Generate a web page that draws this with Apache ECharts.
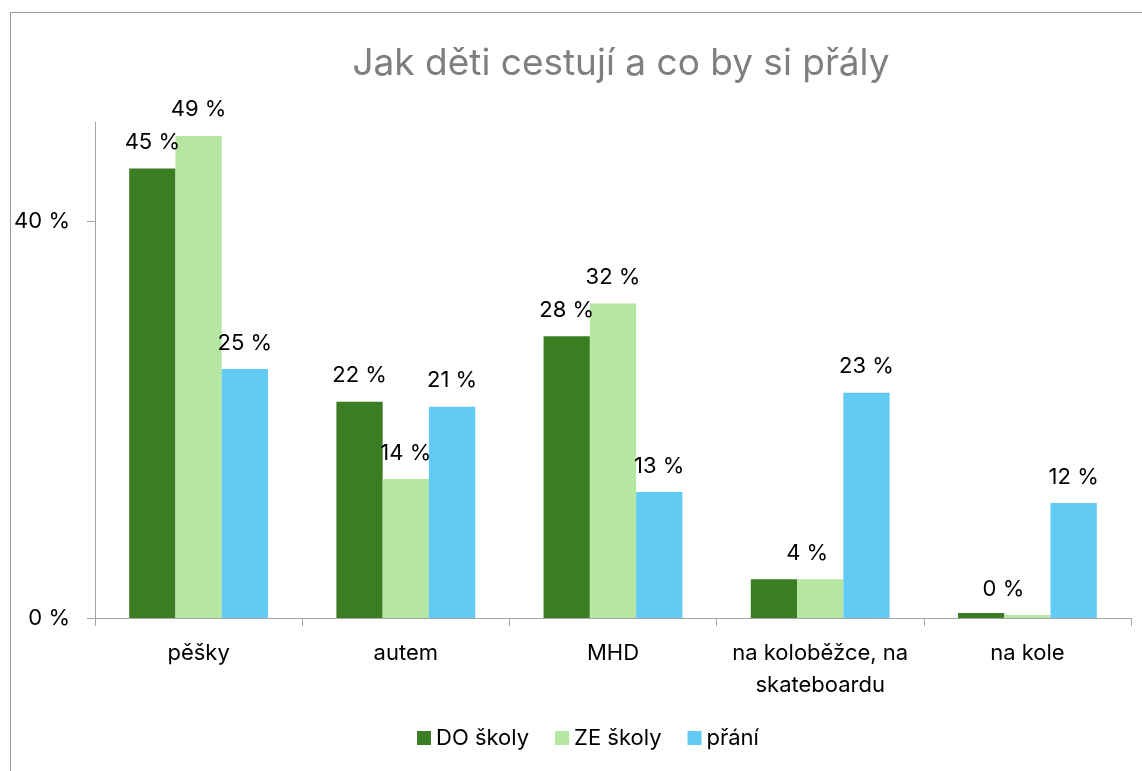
<!DOCTYPE html>
<html><head><meta charset="utf-8">
<script src="https://cdn.jsdelivr.net/npm/echarts@6/dist/echarts.min.js"></script>
<style>html,body{margin:0;padding:0;background:#fff}#c{width:1142px;height:771px}</style>
</head><body><div id="c"></div>
<script>
const categories = ['pěšky', 'autem', 'MHD', 'na koloběžce, na\nskateboardu', 'na kole'];
const seriesNames = ['DO školy', 'ZE školy', 'přání'];
const doSkoly = [45.3, 21.8, 28.4, 3.9, 0.5];
const zeSkoly = [48.6, 14.0, 31.7, 3.9, 0.3];
const prani = [25.1, 21.3, 12.7, 22.7, 11.6];
const yTicks = [0, 40];
const colors = ['#3b7d23', '#b5e6a2', '#61cbf3'];

const FONT = 'Inter';
const FS = 22;
const fmt = p => Math.round(p.value) + ' %';

function mk(vals, hideIdx, offsets) {
  return vals.map((v, i) => {
    const item = { value: v };
    if (hideIdx && hideIdx.includes(i)) item.label = { show: false };
    if (offsets && offsets[i] !== undefined) item.label = { offset: [offsets[i], 0] };
    return item;
  });
}

const labelCfg = { show: true, position: 'top', distance: 15, formatter: fmt, fontFamily: FONT, fontSize: FS, color: '#000' };

const chart = echarts.init(document.getElementById('c'));
chart.setOption({
  animation: false,
  textStyle: { fontFamily: FONT },
  graphic: [{
    type: 'rect', shape: { x: 10.5, y: 12.5, width: 1200, height: 800 },
    style: { fill: 'none', stroke: '#999', lineWidth: 1 }, silent: true, z: -1
  }],
  title: {
    text: 'Jak děti cestují a co by si přály',
    left: 616, top: 40, textAlign: 'center',
    textStyle: { fontFamily: FONT, fontSize: 37, fontWeight: 'normal', color: '#7f7f7f' }
  },
  legend: {
    left: 412, top: 722, itemWidth: 14, itemHeight: 14, itemGap: 26,
    icon: 'rect',
    textStyle: { fontFamily: FONT, fontSize: FS, color: '#000' },
    data: seriesNames
  },
  grid: { left: 95, right: 11, top: 122, bottom: 153, containLabel: false },
  xAxis: {
    type: 'category', data: categories,
    axisLine: { lineStyle: { color: '#a6a6a6' } },
    axisTick: { show: true, length: 8, lineStyle: { color: '#a6a6a6' } },
    axisLabel: { fontFamily: FONT, fontSize: FS, color: '#000', margin: 19, lineHeight: 32, interval: 0 }
  },
  yAxis: {
    type: 'value', min: 0, max: 50, interval: 40,
    splitLine: { show: false },
    axisLine: { show: true, lineStyle: { color: '#a6a6a6' } },
    axisTick: { show: true, length: 8, customValues: yTicks, lineStyle: { color: '#a6a6a6' } },
    axisLabel: { fontFamily: FONT, fontSize: FS, color: '#000', margin: 25, customValues: yTicks, formatter: v => v + ' %' }
  },
  series: [
    { name: seriesNames[0], type: 'bar', data: mk(doSkoly, [3, 4]), itemStyle: { color: colors[0] },
      barGap: '0%', barCategoryGap: '33%', label: labelCfg },
    { name: seriesNames[1], type: 'bar', data: mk(zeSkoly, null, {3: -13, 4: -24}), itemStyle: { color: colors[1] },
      barGap: '0%', barCategoryGap: '33%', label: labelCfg },
    { name: seriesNames[2], type: 'bar', data: mk(prani), itemStyle: { color: colors[2] },
      barGap: '0%', barCategoryGap: '33%', label: labelCfg }
  ]
});
</script></body></html>
